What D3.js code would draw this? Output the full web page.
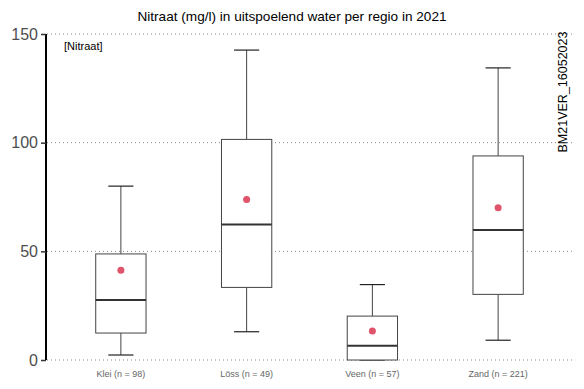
<!DOCTYPE html>
<html><head><meta charset="utf-8">
<script src="https://cdn.jsdelivr.net/npm/d3@7"></script>
<style>body{margin:0;background:#fff}svg{display:block;font-family:"Liberation Sans",Arial,sans-serif}</style>
</head><body><svg id="c" width="584" height="389"></svg>
<script>
const categories = ["Klei (n = 98)", "Löss (n = 49)", "Veen (n = 57)", "Zand (n = 221)"];
const whiskerLow = [2.3, 13.0, 0.0, 9.1];
const q1 = [12.4, 33.4, 0.0, 30.2];
const median = [27.6, 62.3, 6.6, 59.8];
const q3 = [48.8, 101.5, 20.2, 93.9];
const whiskerHigh = [80.0, 142.6, 34.7, 134.4];
const means = [41.3, 73.8, 13.3, 70.0];
const yTicks = [0, 50, 100, 150];

const svg = d3.select("#c");
const x = d3.scaleBand().domain(categories).range([58, 561]);
const y = d3.scaleLinear().domain([0, 150]).range([360, 34]);
const bw = x.bandwidth() * 0.4, cap = bw / 2;

svg.append("g").selectAll("line").data(yTicks).join("line")
  .attr("x1", 47).attr("x2", 575).attr("y1", d => y(d)).attr("y2", d => y(d))
  .attr("stroke", "#888").attr("stroke-width", 1).attr("stroke-dasharray", "1,3");

const yAxis = svg.append("g").attr("transform", "translate(46,0)")
  .call(d3.axisLeft(y).tickValues(yTicks).tickSize(5).tickPadding(3));
yAxis.select(".domain").attr("stroke", "#000").attr("stroke-width", 2).attr("d", "M0," + y(150) + "V" + y(0));
yAxis.selectAll(".tick line").attr("stroke", "#333").attr("stroke-width", 1.5);
yAxis.selectAll(".tick text").attr("font-size", 16).attr("fill", "#4d4d4d").attr("font-family", "Liberation Sans, Arial, sans-serif");

const g = svg.append("g");
categories.forEach((c, i) => {
  const cx = x(c) + x.bandwidth() / 2;
  const gs = g.append("g");
  gs.append("line").attr("x1", cx).attr("x2", cx).attr("y1", y(whiskerHigh[i])).attr("y2", y(q3[i])).attr("stroke", "#444").attr("stroke-width", 1);
  gs.append("line").attr("x1", cx).attr("x2", cx).attr("y1", y(q1[i])).attr("y2", y(whiskerLow[i])).attr("stroke", "#444").attr("stroke-width", 1);
  gs.append("line").attr("x1", cx - cap / 2).attr("x2", cx + cap / 2).attr("y1", y(whiskerHigh[i])).attr("y2", y(whiskerHigh[i])).attr("stroke", "#222").attr("stroke-width", 1.2);
  gs.append("line").attr("x1", cx - cap / 2).attr("x2", cx + cap / 2).attr("y1", y(whiskerLow[i])).attr("y2", y(whiskerLow[i])).attr("stroke", "#222").attr("stroke-width", 1.2);
  gs.append("rect").attr("x", cx - bw / 2).attr("width", bw).attr("y", y(q3[i])).attr("height", y(q1[i]) - y(q3[i]))
    .attr("fill", "#fff").attr("stroke", "#444").attr("stroke-width", 1);
  gs.append("line").attr("x1", cx - bw / 2).attr("x2", cx + bw / 2).attr("y1", y(median[i])).attr("y2", y(median[i])).attr("stroke", "#333").attr("stroke-width", 2);
  gs.append("circle").attr("cx", cx).attr("cy", y(means[i])).attr("r", 3.5).attr("fill", "#DF536B");
});

svg.append("g").selectAll("text").data(categories).join("text")
  .attr("x", d => x(d) + x.bandwidth() / 2).attr("y", 377).attr("text-anchor", "middle")
  .attr("font-size", 9).attr("fill", "#666").text(d => d);

svg.append("text").attr("x", 292).attr("y", 21).attr("text-anchor", "middle").attr("font-size", 13.6).attr("fill", "#000")
  .text("Nitraat (mg/l) in uitspoelend water per regio in 2021");
svg.append("text").attr("x", 64).attr("y", 50).attr("font-size", 11).attr("fill", "#000").text("[Nitraat]");
svg.append("text").attr("transform", "translate(567,92) rotate(-90)").attr("text-anchor", "middle").attr("font-size", 12.5).attr("fill", "#000")
  .text("BM21VER_16052023");
</script></body></html>
